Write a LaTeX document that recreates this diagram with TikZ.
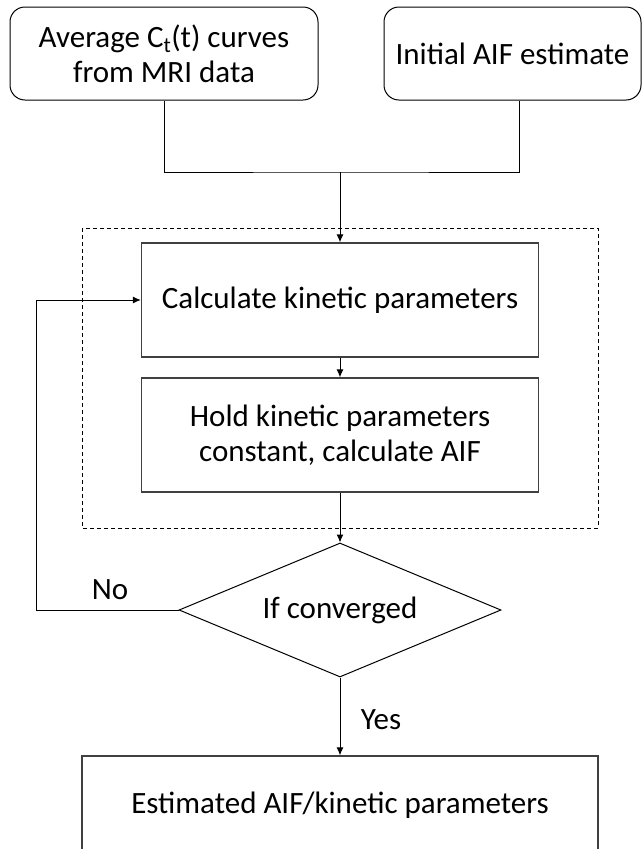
\documentclass[tikz,border=0pt]{standalone}
\usepackage{fontspec}
\setmainfont{Carlito}
\usetikzlibrary{shapes.geometric,arrows.meta}

\begin{document}
\begin{tikzpicture}[x=1pt,y=-1pt,line width=1pt,
    font=\fontsize{31}{35}\selectfont,
    >={Latex[length=8pt,width=7pt]},
    startbox/.style={draw,rounded corners=15pt,align=center,inner sep=0pt},
    workbox/.style={draw=black!75,line width=1.3pt,align=center,inner sep=0pt,minimum width=397pt,minimum height=114pt},
    testbox/.style={draw,diamond,aspect=2.4,inner sep=0pt,minimum width=322pt,minimum height=134pt},
    lbl/.style={inner sep=0pt}]

\useasboundingbox (0,0) rectangle (642,849);

\node[startbox,minimum width=308pt,minimum height=93pt] (avg) at (164,53.5) {Average C\textsubscript{t}(t) curves\\from MRI data};
\node[startbox,minimum width=257pt,minimum height=93pt] (aif) at (512.5,53.5) {Initial AIF estimate};

\draw[dash pattern=on 4pt off 3pt] (82,228) rectangle (598,528);

\node[workbox] (calc) at (340,300) {Calculate kinetic parameters};
\node[workbox] (hold) at (340,435) {Hold kinetic parameters\\constant, calculate AIF};
\node[testbox] (conv) at (340,610) {If converged};
\node[workbox,minimum width=516pt,minimum height=98pt] (est) at (340,805) {Estimated AIF/kinetic parameters};

\coordinate (merge) at (340,172);
\coordinate (loop) at (36,610);

\draw (avg.south) |- (merge) -| ([xshift=7pt]aif.south);
\draw[->] (merge) -- (calc.north);
\draw[->] (calc) -- (hold);
\draw[->] (hold) -- (conv.north);
\draw[->] (conv.west) -- (loop) |- (calc.west);
\draw[->] (conv.south) -- (est.north);

\node[lbl] (no) at (110,590) {No};
\node[lbl] (yes) at (381,720) {Yes};

\end{tikzpicture}
\end{document}
